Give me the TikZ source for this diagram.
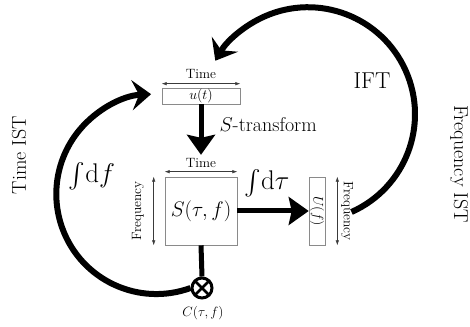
\RequirePackage{fix-cm}
\documentclass[tikz,border=0pt]{standalone}
\usepackage{exscale}
\usetikzlibrary{arrows.meta}
\definecolor{istink}{HTML}{000000}
\definecolor{istgrey}{HTML}{8A8A8A}
\definecolor{istaxis}{HTML}{3A3A3A}
\tikzset{
  ist box/.style={draw=istgrey, line width=0.6pt, inner sep=0pt, fill=white,
    font=\fontsize{14}{16}\selectfont},
  ist axis/.style={{Latex[length=5pt,width=3.5pt]}-{Latex[length=5pt,width=3.5pt]},
    line width=0.5pt, draw=istaxis},
  ist small/.style={font=\fontsize{13.5}{16}\selectfont, text=istink},
  ist big/.style={font=\fontsize{20}{24}\selectfont, text=istink},
  ist huge/.style={font=\fontsize{27}{32}\selectfont, text=istink},
  ist push/.style={line width=5pt, draw=istink,
    -{Stealth[length=20pt,width=28pt,inset=3pt]}},
  ist flow/.style={line width=6pt, draw=istink,
    -{Stealth[length=19pt,width=30pt,inset=7pt]}},
  ist mult/.style={circle, draw=istink, line width=3pt, fill=white,
    minimum size=20pt, inner sep=0pt,
    path picture={\draw[line width=2.5pt]
      (path picture bounding box.north west) -- (path picture bounding box.south east)
      (path picture bounding box.north east) -- (path picture bounding box.south west);}}
}
\begin{document}
\begin{tikzpicture}[x=1pt, y=1pt]
  \useasboundingbox (0,0) rectangle (470,326);
  % signal, S-spectrum and spectrum
  \node[ist box, minimum width=78pt, minimum height=16pt] (ut) at (201,230) {$u(t)$};
  \node[ist box, minimum width=72pt, minimum height=68pt,
    font=\fontsize{21}{25}\selectfont] (S) at (201,115) {$S(\tau,f)$};
  \node[ist box, minimum width=16pt, minimum height=68pt] (U) at (317,115)
    {\rotatebox{-90}{$U(f)$}};
  \node[ist mult] (mult) at (202,38) {};
  \node[ist small] (ctf) at (203,13) {$C(\tau,f)$};
  % axes
  \draw[ist axis] ([yshift=4pt]ut.north west) -- ([yshift=4pt]ut.north east);
  \node[ist small] (ttime) at (201,252) {Time};
  \draw[ist axis] ([yshift=5pt]S.north west) -- ([yshift=5pt]S.north east);
  \node[ist small] (stime) at (201,163) {Time};
  \draw[ist axis] ([xshift=-11pt]S.north west) -- ([xshift=-11pt]S.south west);
  \node[ist small, rotate=90] (sfreq) at (138,115) {Frequency};
  \draw[ist axis] ([xshift=12pt]U.north east) -- ([xshift=12pt]U.south east);
  \node[ist small, rotate=-90] (ufreq) at (347,115) {Frequency};
  % transforms
  \draw[ist push] (ut.south) -- (stime.north);
  \node[ist big, anchor=west] (stlabel) at (216,201) {$S$-transform};
  \draw[ist push] (S.east) -- (U.west);
  \node[ist huge] (idtau) at (267,143) {$\int\!\mathrm{d}\tau$};
  \draw[line width=5pt] (S.south) -- (mult.north);
  \draw[ist flow] (mult.west) arc[start angle=-70, end angle=-267, radius=100];
  \node[ist huge] (idf) at (92,150) {$\int\!\mathrm{d}f$};
  \coordinate (iftstart) at (351.5,114);
  \draw[ist flow] (iftstart) arc[start angle=-66, end angle=150, radius=107];
  \node[ist huge, font=\fontsize{23}{28}\selectfont] (ift) at (372,245) {IFT};
  \node[ist big, rotate=90] (tist) at (19,171) {Time IST};
  \node[ist big, rotate=-90] (fist) at (459,162) {Frequency IST};
\end{tikzpicture}
\end{document}
